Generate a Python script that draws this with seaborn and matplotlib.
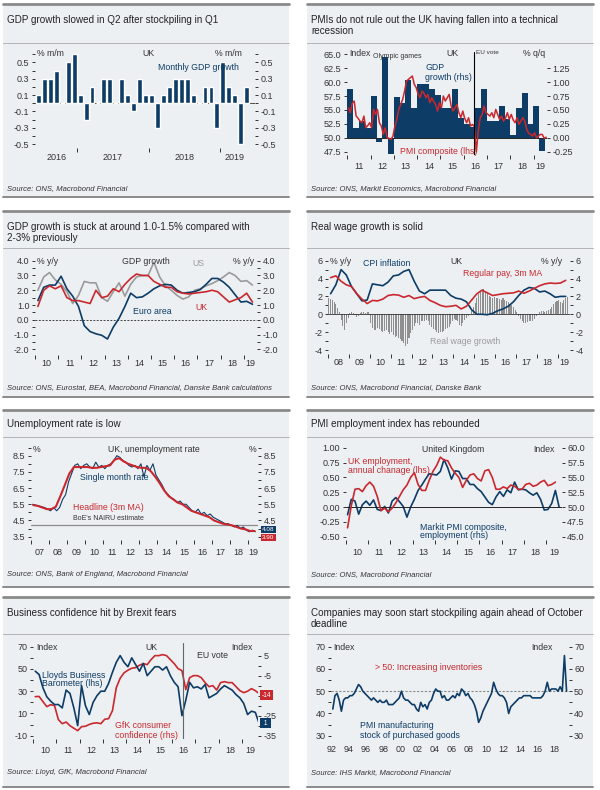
import numpy as np
import matplotlib
matplotlib.use("Agg")
import matplotlib.pyplot as plt
from matplotlib.patches import Rectangle
from matplotlib.lines import Line2D
from matplotlib.ticker import FormatStrFormatter
import seaborn as sns

# ---------------- data ----------------
# 1. UK monthly GDP growth, % m/m, Jun 2016 - May 2019
gdp_mm = [0.1, 0.3, 0.3, 0.4, 0.0, 0.5, 0.6,
          0.1, -0.2, 0.2, 0.0, 0.3, 0.3, 0.0, 0.3, 0.1, -0.1, 0.3, 0.1,
          0.1, -0.3, 0.1, 0.2, 0.3, 0.3, 0.3, 0.1, 0.0, 0.2, 0.2, -0.3,
          0.5, 0.2, 0.1, -0.5, 0.2]
gdp_mm_start = (2016, 6)
gdp_mm_years = ["2016", "2017", "2018", "2019"]

# 2. UK GDP % q/q from 2011Q1 (rhs) and PMI composite monthly from Jan 2011 (lhs)
gdp_qq = [0.87, 0.17, 0.30, 0.18, 0.75, -0.07, 1.45, -0.29,
          0.74, 0.63, 1.04, 0.53, 0.97, 0.97, 0.87, 0.76,
          0.54, 0.54, 0.87, 0.36, 0.24, 0.20, 0.53, 0.87,
          0.30, 0.30, 0.57, 0.33, 0.05, 0.53, 0.80, 0.24,
          0.57, -0.24]
pmi_comp = [55.4, 54.5, 56.2, 56.6, 53.9, 53.5, 53.0, 52.7, 53.9, 51.8, 52.2, 52.7,
            51.8, 55.1, 54.2, 55.1, 52.7, 52.1, 50.6, 51.8, 50.0, 49.9, 49.7, 50.3,
            52.1, 53.3, 55.1, 56.0, 56.9, 58.4, 60.2, 60.5, 60.8, 61.1, 59.6, 59.0,
            57.8, 57.2, 58.4, 58.0, 57.2, 57.8, 56.3, 57.2, 56.5, 56.0, 54.8, 56.3,
            55.4, 57.5, 56.6, 57.2, 57.8, 55.7, 54.8, 55.4, 56.0, 54.5, 53.6, 54.8,
            53.5, 52.7, 53.6, 52.1, 52.4, 52.0, 47.5, 51.2, 53.6, 54.2, 55.7, 54.5,
            54.2, 53.9, 54.5, 53.6, 55.1, 54.2, 53.3, 53.9, 53.0, 53.5, 54.5, 53.3,
            54.2, 53.2, 52.7, 53.6, 52.4, 53.0, 53.6, 53.0, 51.5, 50.8, 50.6, 50.3,
            50.9, 50.0, 50.3, 50.6, 50.6, 49.9, 50.1]
eu_vote = 2016.46

# 3. GDP % y/y, quarterly 2010Q1 - 2019Q2
gdp_uk = [0.9, 2.0, 2.3, 2.1, 2.3, 1.5, 1.3, 1.3, 1.2, 1.1,
          2.0, 1.5, 1.6, 2.1, 1.9, 2.4, 2.8, 3.1, 3.0, 3.0,
          2.6, 2.4, 2.2, 2.2, 1.9, 1.8, 1.75, 1.8, 1.85, 1.9,
          2.0, 1.9, 1.55, 1.2, 1.35, 1.5, 1.8, 1.2]
gdp_ea = [1.3, 2.2, 2.35, 2.35, 2.95, 2.1, 1.6, 0.9, -0.4, -0.8,
          -0.95, -1.05, -1.3, -0.5, 0.1, 0.9, 1.8, 1.5, 1.55, 1.8,
          2.1, 2.3, 2.4, 2.35, 2.0, 1.8, 1.85, 1.9, 2.05, 2.4,
          2.8, 2.8, 2.55, 2.2, 1.7, 1.2, 1.25, 1.05]
gdp_us = [2.0, 2.9, 3.2, 2.7, 2.4, 1.9, 1.1, 1.65, 2.6, 2.5,
          2.5, 1.5, 1.25, 1.9, 2.5, 1.6, 2.4, 2.9, 3.0, 3.0,
          3.9, 2.9, 2.3, 2.0, 1.65, 1.4, 1.55, 2.0, 2.1, 2.3,
          2.45, 2.65, 2.9, 3.2, 3.0, 2.6, 2.65, 2.35]

# 4. CPI and regular pay (quarterly from 2008Q1), real wage growth (monthly from Jan 2008)
cpi = [2.3, 3.3, 5.0, 4.4, 3.1, 2.3, 1.5, 1.6, 3.4, 3.3,
       3.2, 3.6, 4.3, 4.4, 4.8, 5.0, 3.7, 2.6, 2.3, 2.7,
       2.7, 2.7, 2.7, 2.1, 1.8, 1.7, 1.4, 0.5, 0.0, 0.0,
       -0.05, 0.1, 0.4, 0.6, 0.9, 1.4, 2.1, 2.7, 3.0, 2.9,
       2.5, 2.6, 2.3, 1.9, 2.0, 2.0]
pay = [4.1, 4.3, 3.7, 3.3, 3.1, 2.3, 1.7, 1.2, 1.55, 1.5,
       1.7, 2.1, 2.2, 2.15, 1.9, 2.1, 1.75, 1.9, 2.0, 1.55,
       1.3, 1.0, 0.85, 0.9, 1.0, 0.6, 0.9, 1.6, 2.3, 2.7,
       2.4, 2.1, 2.2, 2.3, 2.35, 2.4, 2.6, 2.35, 2.6, 2.9,
       3.2, 3.4, 3.5, 3.45, 3.5, 3.8]
real_wage = [1.8, 1.7, 1.6, 1.4, 1.1, 0.7, 0.2, -0.6, -1.3, -1.8, -1.0, -0.4,
             0.1, 0.2, 0.1, -0.1, -0.3, -0.2, 0.1, 0.2, 0.3, 0.1, 0.2, 0.3,
             -1.0, -1.5, -1.8, -1.8, -1.5, -1.7, -1.9, -2.0, -1.9, -1.8, -2.0, -2.2,
             -2.0, -2.3, -2.5, -2.4, -2.6, -2.8, -3.0, -3.2, -3.5, -3.3, -2.6, -2.1,
             -1.8, -1.3, -1.0, -1.0, -1.2, -0.8, -0.7, -0.8, -0.6, -0.8, -1.2, -1.4,
             -1.6, -1.8, -2.0, -2.1, -2.0, -2.0, -1.9, -1.7, -1.5, -1.4, -1.1, -0.8,
             -0.5, -0.6, -0.8, -1.2, -1.3, -1.0, -0.6, -0.4, -0.2, 0.0, 0.4, 0.8,
             1.3, 1.8, 2.3, 2.6, 2.8, 2.8, 2.6, 2.4, 2.0, 1.9, 1.8, 1.9,
             1.8, 1.8, 1.7, 1.6, 1.8, 1.6, 1.5, 1.4, 1.2, 1.0, 0.8, 0.5,
             0.2, -0.2, -0.5, -0.8, -1.0, -1.0, -0.9, -0.8, -0.8, -0.7, -0.5, -0.2,
             0.0, 0.2, 0.4, 0.4, 0.3, 0.4, 0.5, 0.6, 0.8, 1.1, 1.4, 1.5,
             1.6, 1.4, 1.3, 1.6, 1.8, 1.9]

# 5. unemployment rate: headline quarterly from 2007Q1, single month every 2 months from 2007
unemp_3m = [5.45, 5.4, 5.3, 5.2, 5.2, 5.35, 6.0, 6.7, 7.4, 7.8,
            7.8, 7.8, 7.8, 7.75, 7.75, 7.8, 7.85, 7.9, 8.25, 8.35,
            8.15, 8.0, 7.9, 7.8, 7.75, 7.75, 7.55, 7.2, 6.8, 6.35,
            6.0, 5.8, 5.6, 5.5, 5.3, 5.1, 5.0, 4.9, 4.8, 4.7,
            4.5, 4.4, 4.3, 4.25, 4.2, 4.1, 4.0, 3.95, 3.85, 3.85]
unemp_1m = [5.5, 5.45, 5.4, 5.35, 5.3, 5.2,
            5.1, 5.3, 5.1, 5.3, 5.8, 6.1,
            6.9, 7.4, 7.9, 8.0, 7.7, 7.9,
            8.0, 7.8, 7.7, 8.1, 7.8, 7.9,
            7.7, 7.9, 8.0, 8.2, 8.5, 8.4,
            8.2, 8.1, 7.9, 7.8, 7.9, 7.7,
            8.0, 7.2, 7.9, 7.6, 8.0, 7.3,
            7.0, 6.7, 6.3, 6.1, 5.9, 5.8,
            5.6, 5.7, 5.5, 5.5, 5.3, 5.1,
            5.0, 5.2, 4.9, 5.0, 4.8, 4.9,
            4.7, 4.6, 4.5, 4.4, 4.3, 4.3,
            4.2, 4.1, 4.2, 4.0, 4.1, 3.9,
            3.8, 3.9, 3.8]
nairu = 4.25
unemp_tags = [4.08, 3.90]

# 6. UK employment annual change (lhs) and PMI employment (rhs), every 2 months from 2010
emp_change = [-0.35, 0.02, 0.30, 0.31, 0.26, 0.36,
              0.42, 0.35, 0.18, -0.06, -0.02, -0.08,
              -0.02, 0.07, 0.18, 0.29, 0.37, 0.50,
              0.58, 0.38, 0.28, 0.28, 0.45, 0.60,
              0.70, 0.84, 0.79, 0.78, 0.66, 0.57,
              0.50, 0.33, 0.45, 0.54, 0.56, 0.48,
              0.44, 0.61, 0.63, 0.50, 0.30, 0.30,
              0.34, 0.31, 0.37, 0.35, 0.30, 0.30,
              0.38, 0.40, 0.35, 0.37, 0.42, 0.45,
              0.36, 0.38, 0.42]
pmi_emp = [48.7, 51.3, 51.0, 48.8, 50.4, 51.0,
           50.3, 51.2, 49.6, 49.4, 50.1, 49.0,
           51.0, 51.6, 50.9, 50.1, 48.3, 50.0,
           51.3, 52.8, 53.7, 54.7, 55.6, 55.5,
           55.4, 56.0, 58.0, 56.6, 54.7, 56.1,
           56.0, 54.8, 54.8, 53.8, 53.8, 53.1,
           52.6, 51.7, 50.8, 50.4, 51.7, 52.6,
           51.8, 52.9, 52.4, 54.2, 52.9, 53.0,
           52.9, 52.4, 52.0, 52.4, 51.3, 49.5,
           49.6, 50.6, 52.8, 50.0]

# 7. Lloyds business barometer (lhs) and GfK consumer confidence (rhs), every 2 months from 2010
lloyds = [48, 45, 33, 25, 21, 18,
          18, 15, 31, 28, 15, -1,
          35, 17, 9, 20, 26, 30,
          30, 37, 47, 56, 62, 56,
          52, 60, 54, 48, 55, 44,
          48, 52, 52, 49, 52, 44,
          38, 34, 8, 22, 38, 33,
          34, 32, 36, 24, 26, 28,
          32, 35, 33, 31, 27, 24,
          19, 9, 12, 11, 1]
gfk = [-15.5, -15.4, -18.0, -20.5, -19.5, -20.0,
       -27.0, -29.0, -28.2, -30.0, -31.3, -32.5,
       -30.5, -30.3, -29.4, -28.8, -28.6, -29.0,
       -26.8, -26.5, -22.5, -11.0, -6.3, -3.6,
       -2.3, -1.3, -1.0, 0.2, 1.0, 0.5,
       3.0, 5.0, 5.0, 5.5, 5.0, 3.0,
       1.0, -1.5, -2.5, -12.0, -6.0, -5.0,
       -5.0, -6.0, -8.5, -10.5, -10.0, -12.2,
       -8.5, -8.0, -8.5, -8.5, -10.5, -12.5,
       -13.5, -12.8, -11.5, -12.5, -14.0]

# 8. PMI manufacturing stocks of purchases, quarterly from 1992Q1
stocks = [42, 48, 49, 46, 41, 46, 47, 47, 48, 48, 49, 51,
          53, 52, 50, 49, 48, 47, 46, 47, 46, 45, 46, 45,
          45, 46, 44, 44, 44, 45, 46, 47, 50, 47, 46, 46,
          45, 44, 44, 42, 41, 45, 43, 44, 42, 45, 46, 49,
          51, 50, 50, 47, 48, 46, 46, 47, 48, 47, 49, 48,
          51, 50, 48, 49, 47, 46, 44, 41, 36, 38, 41, 43,
          45, 47, 49, 54, 51, 49, 48, 48, 47, 45, 40, 43,
          44, 45, 46, 47, 47, 48, 48, 48, 48, 47, 47, 47,
          47, 47, 48, 50, 54, 50, 51, 51, 51, 50, 52, 50,
          66, 50]

# ---------------- style ----------------
NAVY = "#0d3c66"
RED = "#c8282e"
GREY = "#9a9a9a"
DARK = "#333333"
BG = "#edf0f3"
RULE = "#8a8a8a"

sns.set_theme(style="white")
plt.rcParams["font.family"] = ["Liberation Sans", "DejaVu Sans"]
plt.rcParams["axes.unicode_minus"] = False

W, H = 600, 790
fig = plt.figure(figsize=(W / 100, H / 100), dpi=100, facecolor="white")


def txt(x, y, s, size=6.3, color=DARK, ha="left", va="center", **kw):
    fig.text(x / W, 1 - y / H, s, fontsize=size, color=color, ha=ha, va=va, **kw)


def hline(x0, x1, y, lw, color):
    fig.add_artist(Line2D([x0 / W, x1 / W], [1 - y / H, 1 - y / H],
                          transform=fig.transFigure, lw=lw, color=color, zorder=-5))


def frame(x0, x1, y0, ydiv, y1, title, title_y, source, source_y):
    fig.add_artist(Rectangle((x0 / W, 1 - y1 / H), (x1 - x0) / W, (y1 - y0) / H,
                             transform=fig.transFigure, facecolor=BG,
                             edgecolor="none", zorder=-10))
    hline(x0, x1, y0, 2.0, RULE)
    hline(x0, x1, ydiv, 0.7, "#b4b4b4")
    hline(x0, x1, y1, 1.4, RULE)
    for i, line in enumerate(title):
        txt(x0 + 4, title_y + i * 11, line, size=7.1, color="#222222")
    txt(x0 + 4, source_y, source, size=5.5, style="italic")


def add_ax(l, t, r, b):
    ax = fig.add_axes([l / W, 1 - b / H, (r - l) / W, (b - t) / H])
    ax.set_facecolor("none")
    for s in ax.spines.values():
        s.set_visible(False)
    return ax


def twin(ax):
    ax2 = ax.twinx()
    ax2.set_facecolor("none")
    for s in ax2.spines.values():
        s.set_visible(False)
    return ax2


def y_ticks(ax, major, minor, fmt, left=True, right=True):
    ax.set_yticks(major)
    ax.set_yticks(minor, minor=True)
    ax.yaxis.set_major_formatter(FormatStrFormatter(fmt))
    ax.tick_params(axis="y", which="both", left=left, right=right,
                   labelleft=left, labelright=right, direction="out",
                   length=2.5, width=0.7, color=DARK, labelcolor=DARK,
                   labelsize=6.5, pad=1.5)
    ax.set_ylabel("")


def year_axis(ax, y0, y1, xmax, pad, ticks=True):
    years = list(range(y0, y1 + 1))
    ax.set_xticks(years)
    ax.set_xticklabels([])
    mids = [(y + min(y + 1, xmax)) / 2 for y in years]
    ax.set_xticks(mids, minor=True)
    ax.set_xticklabels([f"{y % 100:02d}" for y in years], minor=True)
    ax.tick_params(axis="x", which="major", bottom=ticks, length=3, width=0.7,
                   color=DARK, direction="out")
    ax.tick_params(axis="x", which="minor", bottom=True, length=0, pad=pad,
                   labelsize=6.5, labelcolor=DARK)
    ax.set_xlabel("")


def periods(start, n, per_year):
    return start + (np.arange(n) + 0.5) / per_year


def line(ax, x, y, color, lw):
    sns.lineplot(x=x, y=y, ax=ax, color=color, linewidth=lw, errorbar=None)


def tag(ax, val, label, color, dy, size=4.8, pad=0.22):
    ax.annotate(label, xy=(1, val), xycoords=ax.get_yaxis_transform(),
                xytext=(2.8, dy), textcoords="offset points", ha="left", va="center",
                fontsize=size, color="white", zorder=6,
                bbox=dict(boxstyle=f"square,pad={pad}", fc=color, ec="none"))


# ---------------- panel 1: monthly GDP ----------------
frame(3, 289, 4, 43, 197, ["GDP growth slowed in Q2 after stockpiling in Q1"], 20,
      "Source: ONS, Macrobond Financial", 189)
ax = add_ax(35, 52.6, 255, 148.2)
idx = np.arange(len(gdp_mm))
ax.axhline(0, color=DARK, lw=0.6, zorder=0.5)
sns.barplot(x=idx, y=gdp_mm, color=NAVY, saturation=1, width=0.82,
            errorbar=None, ax=ax, zorder=2)
ax.set_xlim(-0.59, 36.4)
ax.set_ylim(-0.55, 0.62)
y_ticks(ax, [-0.5, -0.3, -0.1, 0.1, 0.3, 0.5], [-0.4, -0.2, 0.0, 0.2, 0.4, 0.6], "%.1f")
yrs = gdp_mm_start[0] + (gdp_mm_start[1] - 1 + idx) // 12
bounds = [i - 0.5 for i in range(1, len(idx)) if yrs[i] != yrs[i - 1]]
centers = [idx[yrs == y].mean() for y in np.unique(yrs)]
ax.set_xticks(bounds)
ax.set_xticklabels([])
ax.set_xticks(centers, minor=True)
ax.set_xticklabels(gdp_mm_years, minor=True)
ax.tick_params(axis="x", which="major", bottom=True, length=3, width=0.7, color=DARK)
ax.tick_params(axis="x", which="minor", bottom=True, length=0, pad=3.8,
               labelsize=6.5, labelcolor=DARK)
ax.set_xlabel("")
txt(37, 54, "% m/m")
txt(148, 54, "UK", ha="center")
txt(242, 54, "% m/m", ha="right")
txt(158, 68, "Monthly GDP growth", color=NAVY)

# ---------------- panel 2: PMI composite vs GDP q/q ----------------
frame(307, 593, 4, 43, 197,
      ["PMIs do not rule out the UK having fallen into a technical", "recession"], 20,
      "Source: ONS, Markit Economics, Macrobond Financial", 189)
ax = add_ax(346.7, 52.1, 546.8, 155.0)
ax2 = twin(ax)
ax2.bar(periods(2011, len(gdp_qq), 4), gdp_qq, width=0.26, color=NAVY, linewidth=0)
ax.axhline(50, color="#222222", lw=0.7)
line(ax, periods(2011, len(pmi_comp), 12), pmi_comp, RED, 1.1)
ax.axvline(eu_vote, color="black", lw=0.8)
ax.set_zorder(ax2.get_zorder() + 1)
ax.set_xlim(2010.97, 2019.57)
ax.set_ylim(46.9, 65.4)
ax2.set_ylim(-0.31, 1.54)
y_ticks(ax, np.arange(47.5, 65.1, 2.5), [], "%.1f", left=True, right=False)
y_ticks(ax2, np.arange(-0.25, 1.26, 0.25), [], "%.2f", left=False, right=True)
year_axis(ax, 2011, 2019, 2019.57, pad=4.7)
txt(349, 54, "Index")
txt(373, 57, "Olympic games", size=5.0)
txt(452, 54, "UK", ha="center")
txt(476, 53, "EU vote", size=4.6)
txt(545, 54, "% q/q", ha="right")
txt(425, 67, "GDP", color=NAVY)
txt(425, 77, "growth (rhs)", color=NAVY)
txt(400, 151, "PMI composite (lhs)", color=RED)

# ---------------- panel 3: GDP y/y ----------------
frame(3, 289, 211, 248, 397,
      ["GDP growth is stuck at around 1.0-1.5% compared with", "2-3% previously"], 227,
      "Source: ONS, Eurostat, BEA, Macrobond Financial, Danske Bank calculations", 388)
ax = add_ax(35, 256.3, 257, 355.2)
ax.axhline(0, color="#444444", lw=0.7, dashes=(2, 1.5))
qx = periods(2010, len(gdp_uk), 4)
line(ax, qx, gdp_us, GREY, 1.2)
line(ax, qx, gdp_ea, NAVY, 1.2)
line(ax, qx, gdp_uk, RED, 1.2)
ax.set_xlim(2010, 2019.57)
ax.set_ylim(-2.4, 4.3)
y_ticks(ax, np.arange(-2, 4.1, 1), np.arange(-1.5, 4.0, 1), "%.1f")
year_axis(ax, 2010, 2019, 2019.57, pad=2.4)
txt(37, 261, "% y/y")
txt(122, 261, "GDP growth")
txt(198, 264, "US", color=GREY, ha="center")
txt(254, 261, "% y/y", ha="right")
txt(133, 311, "Euro area", color=NAVY)
txt(195, 307, "UK", color=RED)

# ---------------- panel 4: real wages ----------------
frame(307, 593, 211, 248, 397, ["Real wage growth is solid"], 227,
      "Source: ONS, Macrobond Financial, Danske Bank", 388)
ax = add_ax(328, 257.1, 570, 353.6)
ax.bar(periods(2008, len(real_wage), 12), real_wage, width=0.05, color="#8f8f8f", linewidth=0)
ax.axhline(0, color=DARK, lw=0.6)
q4 = periods(2008, len(cpi), 4)
line(ax, q4, cpi, NAVY, 1.2)
line(ax, q4, pay, RED, 1.2)
ax.set_xlim(2008, 2019.58)
ax.set_ylim(-4.4, 6.4)
y_ticks(ax, np.arange(-4, 6.1, 2), np.arange(-3, 6, 2), "%d")
year_axis(ax, 2008, 2019, 2019.58, pad=3.5)
txt(330, 261, "% y/y")
txt(363, 263, "CPI inflation", color=NAVY)
txt(450, 261, "UK")
txt(562, 261, "% y/y", ha="right")
txt(463, 274, "Regular pay, 3m MA", color=RED)
txt(430, 341, "Real wage growth", color=GREY)

# ---------------- panel 5: unemployment ----------------
frame(3, 289, 410, 437, 587, ["Unemployment rate is low"], 424,
      "Source: ONS, Bank of England, Macrobond Financial", 575)
ax = add_ax(31, 447.6, 258.3, 539.9)
ax2 = twin(ax)
ax.axhline(nairu, color="#8c8c8c", lw=0.9)
line(ax, periods(2007, len(unemp_1m), 6), unemp_1m, NAVY, 0.8)
line(ax, periods(2007, len(unemp_3m), 4), unemp_3m, RED, 1.5)
ax.set_xlim(2007, 2019.58)
ax.set_ylim(3.3, 9.0)
ax2.set_ylim(3.3, 9.0)
u_major = np.arange(3.5, 8.6, 1)
u_minor = np.arange(4, 9.1, 1)
y_ticks(ax, u_major, u_minor, "%.1f", left=True, right=False)
y_ticks(ax2, u_major, u_minor, "%.1f", left=False, right=True)
# the right-hand 3.5 sits behind the value tags, as in the reference
ax2.set_yticklabels(["" if abs(v - 3.5) < 1e-9 else f"{v:.1f}" for v in u_major])
year_axis(ax, 2007, 2019, 2019.58, pad=5.5)
tag(ax2, unemp_tags[0], f"{unemp_tags[0]:.2f}", NAVY, -1.9, size=4.6, pad=0.16)
tag(ax2, unemp_tags[1], f"{unemp_tags[1]:.2f}", RED, -5.4, size=4.6, pad=0.16)
txt(33, 449, "%")
txt(108, 449, "UK, unemployment rate")
txt(256, 449, "%", ha="right")
txt(80, 477, "Single month rate", color=NAVY)
txt(73, 508, "Headline (3m MA)", color=RED)
txt(73, 518, "BoE's NAIRU estimate", size=5.0)

# ---------------- panel 6: PMI employment ----------------
frame(307, 593, 410, 437, 587, ["PMI employment index has rebounded"], 424,
      "Source: ONS, Macrobond Financial", 575)
ax = add_ax(345.7, 444.7, 561.7, 540.3)
ax2 = twin(ax)
ax.axhline(0, color="#222222", lw=0.7)
line(ax2, periods(2010, len(pmi_emp), 6), pmi_emp, NAVY, 1.2)
line(ax, periods(2010, len(emp_change), 6), emp_change, RED, 1.2)
ax.set_zorder(ax2.get_zorder() + 1)
ax.set_xlim(2010, 2019.7)
ax.set_ylim(-0.56, 1.05)
ax2.set_ylim(44.4, 60.5)
y_ticks(ax, np.arange(-0.5, 1.01, 0.25), [], "%.2f", left=True, right=False)
y_ticks(ax2, np.arange(45, 60.1, 2.5), [], "%.1f", left=False, right=True)
year_axis(ax, 2010, 2019, 2019.7, pad=5.9)
txt(422, 449, "United Kingdom")
txt(555, 449, "Index", ha="right")
txt(348, 462, "UK employment,", color=RED)
txt(348, 471, "annual chanage (lhs)", color=RED)
txt(420, 527, "Markit PMI composite,", color=NAVY)
txt(420, 536, "employment (rhs)", color=NAVY)

# ---------------- panel 7: business confidence ----------------
frame(3, 289, 597, 634, 787, ["Business confidence hit by Brexit fears"], 613,
      "Source: Lloyd, GfK, Macrobond Financial", 773)
ax = add_ax(33.3, 643.4, 258.0, 739.0)
ax2 = twin(ax)
line(ax2, periods(2010, len(gfk), 6), gfk, RED, 1.2)
line(ax, periods(2010, len(lloyds), 6), lloyds, NAVY, 1.2)
ax.axvline(eu_vote - 0.01, color="#666666", lw=0.8)
ax.set_zorder(ax2.get_zorder() + 1)
ax.set_xlim(2010, 2019.7)
ax.set_ylim(-13, 73)
ax2.set_ylim(-36.67, 11.11)
y_ticks(ax, np.arange(-10, 71, 20), np.arange(0, 61, 20), "%d", left=True, right=False)
r_major = np.arange(-35, 6, 10)
y_ticks(ax2, r_major, np.arange(-30, 1, 10), "%d", left=False, right=True)
# the right-hand -15 sits behind the GfK value tag, as in the reference
ax2.set_yticklabels(["" if v == -15 else f"{v:d}" for v in r_major])
year_axis(ax, 2010, 2019, 2019.7, pad=4.9)
tag(ax2, gfk[-1], f"{gfk[-1]:.0f}", RED, -1.0)
tag(ax, lloyds[-1], f" {lloyds[-1]:.0f} ", NAVY, 0.0)
txt(36, 647, "Index")
txt(145, 647, "UK")
txt(197, 656, "EU vote")
txt(253, 647, "Index", ha="right")
txt(42, 675, "Lloyds Business", color=NAVY)
txt(42, 684, "Barometer (lhs)", color=NAVY)
txt(115, 725, "GfK consumer", color=RED)
txt(115, 735, "confidence (rhs)", color=RED)

# ---------------- panel 8: stockpiling ----------------
frame(307, 593, 597, 634, 787,
      ["Companies may soon start stockpiling again ahead of October", "deadline"], 613,
      "Source: IHS Markit, Macrobond Financial", 773)
ax = add_ax(331.3, 642.2, 568.5, 740.2)
ax.axhline(50, color="#888888", lw=0.8, dashes=(2, 1.5))
line(ax, periods(1992, len(stocks), 4), stocks, NAVY, 1.2)
ax.set_xlim(1991.95, 2019.6)
ax.set_ylim(28, 72)
y_ticks(ax, np.arange(30, 71, 10), np.arange(35, 70, 10), "%d")
even = list(range(1992, 2019, 2))
ax.set_xticks(even)
ax.set_xticklabels([f"{y % 100:02d}" for y in even])
ax.tick_params(axis="x", which="major", bottom=True, length=0, pad=3.8,
               labelsize=6.5, labelcolor=DARK)
ax.set_xlabel("")
txt(333, 647, "Index")
txt(553, 647, "Index", ha="right")
txt(375, 668, "> 50: Increasing inventories", color=RED)
txt(360, 726, "PMI manufacturing", color=NAVY)
txt(360, 735, "stock of purchased goods", color=NAVY)

fig.savefig("out.png", dpi=100, facecolor="white")
